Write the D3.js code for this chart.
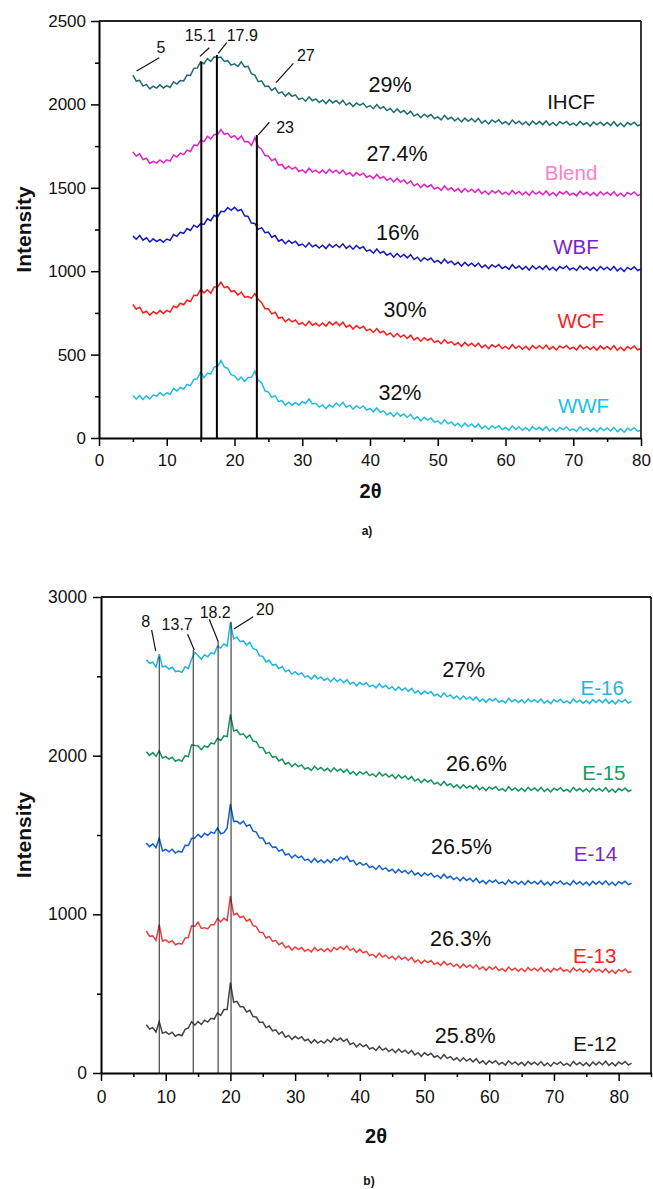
<!DOCTYPE html>
<html><head><meta charset="utf-8">
<script src="https://cdn.jsdelivr.net/npm/d3@7"></script>
<style>body{margin:0;background:#fff}svg{display:block}text{font-family:"Liberation Sans",Arial,sans-serif}</style>
</head><body>
<svg id="c" width="653" height="1189"></svg>
<script>
// ---------- Panel a data (2θ from 5 to 80, step 0.5) ----------
const thetaStartA = 5, thetaStepA = 0.5;
const seriesNamesA = ["IHCF","Blend","WBF","WCF","WWF"];
const IHCF = [2175,2140,2144,2110,2120,2093,2109,2098,2117,2098,
 2113,2102,2135,2122,2143,2141,2176,2174,2216,2218,
 2255,2244,2274,2258,2285,2280,2284,2258,2262,2235,
 2243,2227,2255,2224,2228,2184,2176,2136,2141,2108,
 2110,2084,2099,2066,2075,2050,2069,2048,2057,2030,
 2038,2019,2045,2022,2033,2011,2026,2005,2029,2009,
 2024,2004,2024,1996,2010,1987,2009,1994,2007,1982,
 1993,1974,1999,1975,1986,1963,1976,1952,1973,1951,
 1963,1941,1959,1930,1943,1920,1941,1926,1939,1915,
 1925,1907,1934,1911,1923,1902,1917,1895,1918,1899,
 1915,1895,1916,1888,1904,1883,1907,1893,1908,1884,
 1896,1879,1906,1885,1899,1879,1896,1875,1900,1881,
 1897,1879,1901,1875,1892,1872,1896,1883,1898,1876,
 1888,1873,1898,1878,1890,1870,1894,1878,1893,1874,
 1892,1874,1896,1870,1887,1867,1891,1878,1893,1872,
 1880];
const Blend = [1715,1690,1704,1669,1677,1646,1659,1648,1667,1650,
 1668,1660,1697,1685,1708,1699,1726,1718,1756,1753,
 1785,1777,1809,1793,1820,1820,1849,1821,1827,1802,
 1813,1789,1810,1776,1778,1754,1801,1746,1731,1693,
 1690,1662,1674,1636,1640,1613,1629,1612,1624,1598,
 1608,1590,1617,1594,1606,1588,1606,1586,1611,1591,
 1606,1586,1606,1578,1592,1570,1591,1575,1588,1563,
 1573,1555,1580,1556,1568,1545,1558,1535,1556,1534,
 1547,1524,1542,1512,1525,1501,1521,1505,1518,1493,
 1503,1485,1511,1488,1500,1479,1495,1473,1496,1476,
 1492,1472,1492,1465,1481,1460,1483,1469,1484,1461,
 1474,1458,1484,1463,1478,1458,1475,1455,1480,1462,
 1477,1459,1481,1455,1472,1452,1476,1463,1479,1457,
 1468,1452,1480,1459,1473,1454,1471,1451,1476,1458,
 1473,1455,1477,1451,1468,1448,1472,1459,1475,1453,
 1462];
const WBF = [1210,1192,1214,1186,1200,1175,1194,1177,1190,1174,
 1193,1185,1220,1209,1233,1227,1256,1244,1276,1263,
 1285,1280,1314,1303,1335,1325,1359,1356,1382,1365,
 1383,1362,1370,1332,1328,1289,1286,1251,1261,1231,
 1235,1204,1214,1180,1190,1165,1184,1167,1180,1154,
 1163,1145,1170,1146,1158,1139,1156,1136,1161,1143,
 1160,1142,1164,1137,1153,1132,1154,1136,1147,1120,
 1128,1108,1133,1108,1118,1095,1108,1084,1106,1085,
 1100,1080,1099,1070,1084,1060,1081,1066,1079,1054,
 1065,1047,1072,1049,1060,1039,1053,1031,1053,1033,
 1048,1029,1049,1022,1037,1016,1039,1025,1040,1016,
 1028,1011,1039,1017,1031,1011,1028,1007,1032,1013,
 1029,1011,1033,1007,1024,1004,1028,1015,1031,1009,
 1020,1004,1032,1011,1025,1006,1023,1003,1028,1010,
 1024,1006,1028,1002,1019,999,1023,1010,1026,1004,
 1013];
const WCF = [800,772,784,750,760,736,757,745,764,747,
 765,755,790,782,808,799,826,818,856,855,
 890,870,889,868,905,905,934,901,907,878,
 883,857,875,844,848,837,866,831,811,775,
 775,744,754,718,725,697,714,696,707,681,
 691,673,700,676,688,671,690,671,696,678,
 695,674,694,664,677,653,674,657,670,644,
 653,633,656,631,640,617,630,606,626,605,
 618,597,616,588,602,580,601,585,598,573,
 583,565,590,567,578,557,572,550,573,553,
 568,549,569,542,557,536,559,545,560,537,
 549,532,559,538,552,532,550,529,554,536,
 553,535,557,531,548,528,552,539,555,533,
 544,528,556,535,549,530,547,527,552,534,
 549,531,553,527,544,524,548,535,551,529,
 537];
const WWF = [255,234,254,232,253,234,259,251,272,254,
 271,262,297,282,303,294,321,314,351,355,
 395,362,389,383,425,430,464,426,417,380,
 373,347,365,339,363,364,401,346,331,283,
 275,244,254,218,225,197,214,198,212,198,
 218,207,235,204,208,185,198,176,199,185,
 210,192,214,184,197,173,194,178,192,168,
 178,157,180,154,163,139,152,129,151,130,
 144,123,142,113,127,103,124,107,120,94,
 103,84,109,85,96,74,89,66,89,69,
 84,64,84,56,72,51,74,59,74,51,
 63,46,73,52,66,46,63,43,68,50,
 64,46,68,42,59,39,63,50,66,44,
 55,39,67,46,60,41,58,38,63,45,
 60,42,64,38,55,35,59,46,62,40,
 48];
const crystLabelsA = ["29%","27.4%","16%","30%","32%"];
const crystPosA = [[42.97,2073],[44.0,1661],[44.08,1187],[45.18,724],[44.42,228]];
const namePosA = [[69.68,1971],[69.68,1547],[70.41,1101],[71.11,658],[71.52,148]];
const peakLineXA = [15.1, 17.4, 23.3];
const peakLineTopA = [2256, 2296, 1816];
const peakLabelsA = ["5","15.1","17.9","27","23"];
const peakLabelPosA = [[9.14,2310],[14.96,2380],[21.15,2380],[30.53,2260],[27.46,1827]];
const leadersA = [[5.55,2200,8.89,2280],[14.9,2288,16.28,2340],[17.6,2306,18.85,2370],[26.13,2130,28.69,2246],[23.52,1817,25.14,1893]];
const xTicksA = [0,10,20,30,40,50,60,70,80];
const xMinorA = [5,15,25,35,45,55,65,75];
const yTicksA = [0,500,1000,1500,2000,2500];
const yMinorA = [250,750,1250,1750,2250];

// ---------- Panel b data (2θ from 7 to 82, step 0.5) ----------
const thetaStartB = 7, thetaStepB = 0.5;
const seriesNamesB = ["E-16","E-15","E-14","E-13","E-12"];
const E16 = [2605,2582,2589,2558,2640,2560,2564,2546,2557,2530,
 2533,2525,2560,2549,2608,2650,2631,2608,2636,2623,
 2650,2642,2690,2678,2705,2690,2840,2736,2747,2718,
 2723,2697,2715,2674,2668,2629,2626,2591,2601,2571,
 2575,2548,2562,2530,2540,2513,2529,2511,2522,2495,
 2503,2483,2507,2484,2496,2474,2488,2466,2489,2468,
 2482,2460,2479,2450,2463,2440,2461,2446,2459,2435,
 2445,2427,2453,2430,2443,2421,2434,2411,2433,2412,
 2426,2405,2424,2395,2409,2386,2407,2391,2404,2378,
 2388,2369,2395,2372,2383,2361,2376,2354,2376,2355,
 2370,2350,2370,2342,2357,2336,2359,2345,2360,2337,
 2349,2333,2361,2340,2354,2335,2352,2332,2357,2339,
 2353,2335,2357,2331,2348,2328,2352,2339,2355,2333,
 2345,2329,2357,2336,2350,2331,2348,2328,2353,2335,
 2352,2334,2356,2330,2347,2327,2351,2338,2354,2332,
 2342];
const E15 = [2025,2002,2019,1996,2030,1985,1994,1978,1990,1965,
 1975,1965,2000,1994,2068,2064,2061,2038,2061,2053,
 2080,2074,2109,2096,2125,2120,2260,2156,2162,2132,
 2138,2112,2130,2092,2088,2051,2051,2014,2021,1991,
 1995,1967,1979,1946,1957,1931,1949,1931,1942,1916,
 1925,1907,1933,1912,1926,1905,1920,1899,1923,1903,
 1916,1895,1914,1885,1899,1877,1899,1884,1898,1874,
 1885,1867,1894,1872,1886,1865,1879,1856,1879,1858,
 1872,1850,1869,1840,1853,1830,1851,1834,1847,1821,
 1831,1812,1837,1812,1823,1801,1816,1794,1816,1796,
 1811,1792,1812,1785,1801,1780,1803,1789,1804,1781,
 1792,1776,1804,1783,1797,1778,1795,1775,1800,1782,
 1796,1778,1800,1774,1791,1771,1795,1782,1798,1776,
 1788,1772,1800,1779,1793,1774,1791,1771,1796,1778,
 1794,1776,1798,1772,1789,1769,1793,1780,1796,1774,
 1784];
const E14 = [1450,1427,1444,1420,1480,1400,1409,1394,1410,1386,
 1398,1392,1435,1434,1478,1481,1504,1485,1511,1497,
 1518,1510,1544,1508,1515,1545,1695,1586,1587,1570,
 1588,1555,1565,1524,1518,1481,1481,1444,1451,1421,
 1425,1397,1409,1374,1383,1356,1374,1356,1367,1340,
 1348,1327,1352,1329,1343,1325,1344,1326,1351,1338,
 1360,1346,1366,1333,1340,1311,1327,1310,1321,1295,
 1303,1283,1307,1282,1293,1271,1284,1261,1283,1263,
 1277,1256,1276,1248,1262,1240,1261,1246,1259,1235,
 1246,1227,1253,1229,1240,1219,1233,1211,1233,1213,
 1227,1206,1226,1198,1213,1192,1215,1201,1216,1194,
 1205,1189,1217,1196,1209,1190,1207,1187,1212,1194,
 1208,1190,1212,1186,1203,1183,1207,1194,1210,1188,
 1200,1184,1212,1191,1205,1186,1203,1183,1208,1190,
 1207,1189,1211,1185,1202,1182,1206,1193,1209,1187,
 1197];
const E13 = [895,862,864,836,935,830,839,822,834,808,
 818,812,850,854,928,924,951,911,916,908,
 935,934,974,953,975,960,1115,996,1007,980,
 988,957,970,929,923,887,886,851,861,831,
 835,808,822,789,800,775,794,778,791,767,
 779,763,791,770,784,766,784,765,791,776,
 796,779,801,773,785,760,779,758,767,740,
 748,729,755,731,743,721,736,714,737,716,
 730,709,728,699,713,690,711,696,709,685,
 696,678,703,680,692,671,686,663,686,666,
 681,662,682,654,669,647,669,654,669,646,
 658,641,668,648,661,642,659,639,664,646,
 661,643,665,639,656,636,660,647,663,641,
 651,635,663,642,656,637,654,634,659,641,
 653,635,657,631,648,628,652,639,655,633,
 640];
const E12 = [305,277,286,258,325,250,259,244,257,232,
 243,235,275,284,323,301,324,306,333,321,
 345,340,379,363,400,400,570,446,452,418,
 418,385,395,356,353,319,321,286,296,266,
 272,245,259,226,237,212,231,215,228,203,
 213,189,210,189,203,189,211,194,221,205,
 220,200,214,180,190,165,184,166,178,151,
 160,142,167,144,156,135,150,128,151,130,
 144,123,142,114,128,105,127,111,124,99,
 109,90,115,92,103,82,96,74,96,75,
 90,70,90,62,77,55,77,62,77,54,
 67,50,77,56,70,51,67,47,72,54,
 68,50,72,46,63,43,67,54,70,48,
 61,45,73,52,66,47,64,44,69,51,
 70,52,74,48,65,45,69,56,72,50,
 62];
const crystLabelsB = ["27%","26.6%","26.5%","26.3%","25.8%"];
const crystPosB = [[56.06,2498],[58.02,1906],[55.71,1381],[55.57,802],[56.29,189]];
const namePosB = [[77.45,2383],[77.71,1847],[76.42,1339],[76.29,693],[76.34,136]];
const peakLineXB = [9.0, 14.25, 18.1, 20.1];
const peakLineTopB = [2624, 2666, 2718, 2844];
const peakLabelsB = ["8","13.7","18.2","20"];
const peakLabelPosB = [[6.92,2813],[11.77,2792],[17.65,2866],[25.33,2887]];
const leadersB = [[7.83,2792,8.45,2660],[13.39,2765,14.41,2666],[16.73,2860,18.12,2718],[23.52,2876,20.54,2798]];
const xTicksB = [0,10,20,30,40,50,60,70,80];
const xMinorB = [5,15,25,35,45,55,65,75,85];
const yTicksB = [0,1000,2000,3000];
const yMinorB = [500,1500,2500];

const svg = d3.select("#c");
const FONT = '"Liberation Sans",Arial,sans-serif';

function drawPanel(o) {
  const x = d3.scaleLinear().domain(o.xDomain).range([o.left, o.right]);
  const y = d3.scaleLinear().domain(o.yDomain).range([o.bottom, o.top]);
  const g = svg.append("g");

  o.series.forEach(s => {
    g.append("path").datum(s.values)
      .attr("fill","none").attr("stroke", s.color).attr("stroke-width",1.5)
      .attr("stroke-linejoin","miter")
      .attr("d", d3.line().x((d,i) => x(o.x0 + i*o.step)).y(d => y(d)));
  });

  o.peakX.forEach((px,i) => {
    g.append("line").attr("x1",x(px)).attr("x2",x(px))
      .attr("y1",y(o.peakTop[i])).attr("y2",y(0))
      .attr("stroke",o.peakColor).attr("stroke-width",o.peakWidth);
  });
  o.leaders.forEach(l => {
    g.append("line").attr("x1",x(l[0])).attr("y1",y(l[1])).attr("x2",x(l[2])).attr("y2",y(l[3]))
      .attr("stroke","#111").attr("stroke-width",1.2);
  });
  o.peakLabels.forEach((t,i) => {
    g.append("text").attr("x",x(o.peakLabelPos[i][0])).attr("y",y(o.peakLabelPos[i][1]))
      .attr("text-anchor","middle").attr("font-size",16).attr("fill","#111").text(t);
  });
  o.cryst.forEach((t,i) => {
    g.append("text").attr("x",x(o.crystPos[i][0])).attr("y",y(o.crystPos[i][1]))
      .attr("text-anchor","middle").attr("font-size",21.5).attr("fill","#111").text(t);
  });
  o.names.forEach((t,i) => {
    g.append("text").attr("x",x(o.namePos[i][0])).attr("y",y(o.namePos[i][1]))
      .attr("text-anchor","middle").attr("font-size",20.5).attr("fill",o.nameColors[i]).text(t);
  });

  g.append("line").attr("x1",o.left).attr("x2",o.right).attr("y1",o.top).attr("y2",o.top)
    .attr("stroke","#222").attr("stroke-width",1.8);
  g.append("line").attr("x1",o.right).attr("x2",o.right).attr("y1",o.top).attr("y2",o.bottom)
    .attr("stroke","#222").attr("stroke-width",1.8);

  const style = sel => {
    sel.attr("font-family",FONT).attr("font-size",o.tickFont);
    sel.selectAll("path.domain").attr("stroke","#000").attr("stroke-width",2);
    sel.selectAll(".tick line").attr("stroke","#000").attr("stroke-width",1.5);
    sel.selectAll(".tick text").attr("fill","#111");
  };
  g.append("g").attr("transform",`translate(0,${o.bottom})`)
    .call(d3.axisBottom(x).tickValues(o.xMinor).tickSize(4).tickSizeOuter(0).tickFormat(""))
    .call(s => s.select("path.domain").remove()).call(style);
  g.append("g").attr("transform",`translate(0,${o.bottom})`)
    .call(d3.axisBottom(x).tickValues(o.xTicks).tickSize(8).tickSizeOuter(0).tickPadding(o.xPad).tickFormat(d3.format("d")))
    .call(style);
  g.append("g").attr("transform",`translate(${o.left},0)`)
    .call(d3.axisLeft(y).tickValues(o.yMinor).tickSize(4).tickSizeOuter(0).tickFormat(""))
    .call(s => s.select("path.domain").remove()).call(style);
  g.append("g").attr("transform",`translate(${o.left},0)`)
    .call(d3.axisLeft(y).tickValues(o.yTicks).tickSize(8).tickSizeOuter(0).tickPadding(o.yPad).tickFormat(d3.format("d")))
    .call(style);

  g.append("text").attr("transform",`translate(31,${(o.top+o.bottom)/2}) rotate(-90)`)
    .attr("text-anchor","middle").attr("font-size",21).attr("font-weight","bold").attr("fill","#111").text("Intensity");
  g.append("text").attr("x",o.xTitleX).attr("y",o.xTitleY)
    .attr("text-anchor","middle").attr("font-size",20).attr("font-weight","bold").attr("fill","#111").text("2θ");
  g.append("text").attr("x",o.capX).attr("y",o.capY)
    .attr("text-anchor","middle").attr("font-size",12).attr("font-weight","bold").attr("fill","#111").text(o.caption);
}

drawPanel({
  xDomain:[0,80], yDomain:[0,2500], left:99, right:641, top:21, bottom:438,
  x0:thetaStartA, step:thetaStepA,
  series:[
    {values:IHCF, color:"#1b6b72"},
    {values:Blend, color:"#e21ec6"},
    {values:WBF, color:"#1616c2"},
    {values:WCF, color:"#ff1a1a"},
    {values:WWF, color:"#1ebde6"}],
  peakX:peakLineXA, peakTop:peakLineTopA, peakColor:"#000", peakWidth:2,
  leaders:leadersA, peakLabels:peakLabelsA, peakLabelPos:peakLabelPosA,
  cryst:crystLabelsA, crystPos:crystPosA,
  names:seriesNamesA, namePos:namePosA,
  nameColors:["#111","#ff80c6","#7a22c8","#ff2020","#19bfe8"],
  xTicks:xTicksA, xMinor:xMinorA, yTicks:yTicksA, yMinor:yMinorA,
  tickFont:17, xPad:8, yPad:5,
  xTitleX:370.5, xTitleY:498, capX:367, capY:535, caption:"a)"
});

drawPanel({
  xDomain:[0,85], yDomain:[0,3000], left:101, right:651, top:597, bottom:1073,
  x0:thetaStartB, step:thetaStepB,
  series:[
    {values:E16, color:"#1cb6e2"},
    {values:E15, color:"#15925a"},
    {values:E14, color:"#1060d0"},
    {values:E13, color:"#f03c3c"},
    {values:E12, color:"#444444"}],
  peakX:peakLineXB, peakTop:peakLineTopB, peakColor:"#222", peakWidth:1,
  leaders:leadersB, peakLabels:peakLabelsB, peakLabelPos:peakLabelPosB,
  cryst:crystLabelsB, crystPos:crystPosB,
  names:seriesNamesB, namePos:namePosB,
  nameColors:["#1cb6e2","#10a060","#7b22d0","#ff2020","#111"],
  xTicks:xTicksB, xMinor:xMinorB, yTicks:yTicksB, yMinor:yMinorB,
  tickFont:17.5, xPad:10, yPad:6,
  xTitleX:376, xTitleY:1143, capX:369, capY:1185, caption:"b)"
});
</script>
</body></html>
